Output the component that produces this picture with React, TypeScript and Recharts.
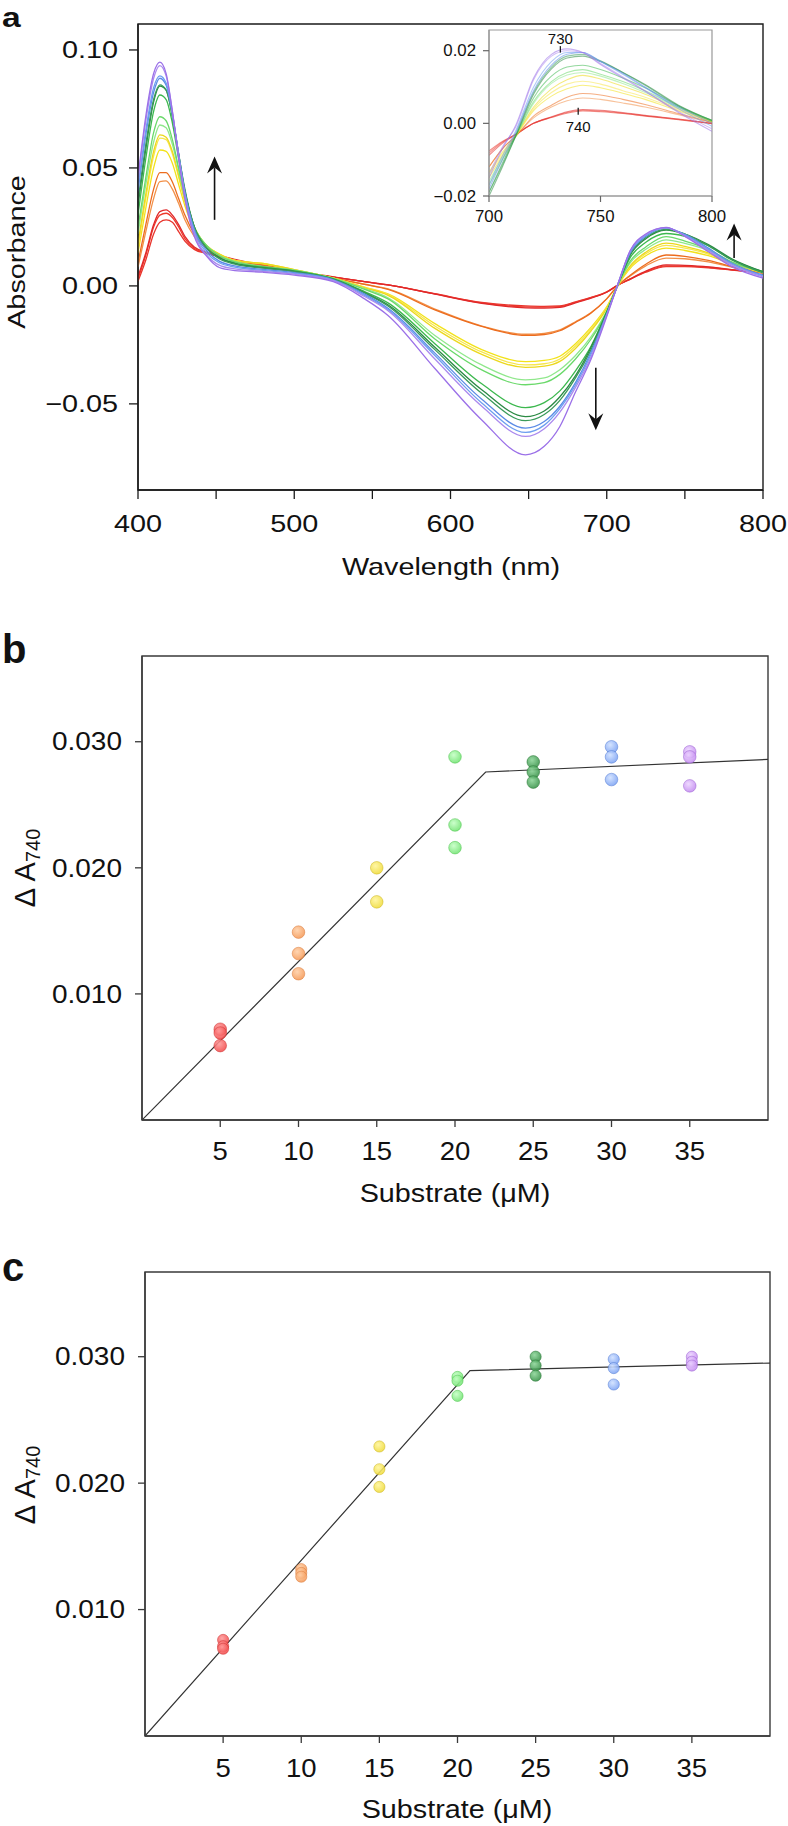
import React from 'react';
import {
  LineChart, Line, XAxis, YAxis, ReferenceArea, ReferenceLine, ReferenceDot,
  ComposedChart, Scatter,
} from 'recharts';

const FONT = '"Liberation Sans", Arial, Helvetica, sans-serif';

// ---------------- Panel a : spectra ----------------
const wavelengths = [400, 405, 410, 414, 418, 422, 426, 430, 436, 444, 452, 462, 480, 500, 525, 545, 560, 590, 620, 648, 660, 670, 680, 690, 700, 707, 715, 725, 738, 750, 765, 780, 800];

const red1 = [0.002, 0.011, 0.022, 0.027, 0.028, 0.027, 0.023, 0.019, 0.0155, 0.0137, 0.0124, 0.0108, 0.0085, 0.0061, 0.0037, 0.0018, 0.0004, -0.0033, -0.007, -0.0085, -0.0087, -0.0085, -0.0068, -0.0049, -0.0025, 0.0003, 0.0028, 0.0058, 0.0082, 0.0082, 0.0077, 0.0067, 0.0055];
const red2 = [0.003, 0.013, 0.025, 0.030, 0.0308, 0.029, 0.025, 0.020, 0.016, 0.014, 0.0126, 0.011, 0.0086, 0.0062, 0.0037, 0.0018, 0.0004, -0.0034, -0.0072, -0.0089, -0.009, -0.0088, -0.007, -0.005, -0.0026, 0.0003, 0.0029, 0.006, 0.0085, 0.0084, 0.0079, 0.0068, 0.0055];
const red3 = [0.004, 0.014, 0.026, 0.0315, 0.0322, 0.030, 0.026, 0.021, 0.0165, 0.0143, 0.0128, 0.0112, 0.0087, 0.0063, 0.0038, 0.0018, 0.0004, -0.0035, -0.0074, -0.0093, -0.0094, -0.0091, -0.0072, -0.0052, -0.0027, 0.0003, 0.003, 0.0063, 0.0089, 0.0087, 0.0081, 0.0069, 0.0056];
const orange1 = [0.008, 0.023, 0.037, 0.0442, 0.0445, 0.041, 0.035, 0.028, 0.021, 0.016, 0.013, 0.0106, 0.009, 0.0066, 0.0033, 0.0007, -0.0013, -0.0098, -0.017, -0.0205, -0.0201, -0.0186, -0.0152, -0.0113, -0.0054, 0.0, 0.0042, 0.0085, 0.0118, 0.0115, 0.0102, 0.008, 0.0055];
const orange2 = [0.010, 0.026, 0.041, 0.048, 0.048, 0.044, 0.037, 0.030, 0.022, 0.016, 0.013, 0.0106, 0.009, 0.0066, 0.0033, 0.0006, -0.0015, -0.0102, -0.0172, -0.021, -0.0206, -0.019, -0.0155, -0.0115, -0.0055, 0.0, 0.0045, 0.0092, 0.0131, 0.0125, 0.0108, 0.0082, 0.0055];
const yellow1 = [0.014, 0.033, 0.050, 0.0576, 0.057, 0.052, 0.043, 0.034, 0.024, 0.017, 0.0135, 0.0108, 0.0094, 0.0068, 0.0033, -0.0005, -0.0034, -0.016, -0.027, -0.0321, -0.0316, -0.0298, -0.0245, -0.0175, -0.0088, 0.0, 0.0075, 0.0128, 0.016, 0.015, 0.0128, 0.0093, 0.0055];
const yellow2 = [0.016, 0.037, 0.055, 0.0626, 0.062, 0.056, 0.046, 0.036, 0.025, 0.017, 0.0135, 0.0108, 0.0095, 0.0069, 0.0033, -0.0006, -0.0037, -0.017, -0.028, -0.0335, -0.033, -0.031, -0.0255, -0.0182, -0.0092, 0.0, 0.008, 0.0136, 0.0172, 0.016, 0.0135, 0.0095, 0.0056];
const yellow3 = [0.018, 0.039, 0.057, 0.064, 0.063, 0.057, 0.047, 0.036, 0.025, 0.017, 0.0135, 0.0108, 0.0095, 0.0069, 0.0033, -0.0008, -0.004, -0.018, -0.029, -0.0345, -0.034, -0.032, -0.0265, -0.019, -0.0095, 0.0, 0.0085, 0.0143, 0.0181, 0.0168, 0.014, 0.0097, 0.0057];
const lgreen1 = [0.022, 0.043, 0.061, 0.0682, 0.067, 0.060, 0.049, 0.037, 0.025, 0.017, 0.013, 0.0104, 0.0083, 0.0067, 0.0032, -0.0012, -0.005, -0.021, -0.0335, -0.0398, -0.039, -0.0355, -0.0295, -0.0215, -0.0105, 0.0002, 0.0098, 0.0155, 0.0195, 0.018, 0.015, 0.010, 0.006];
const lgreen2 = [0.025, 0.046, 0.065, 0.0717, 0.070, 0.062, 0.050, 0.038, 0.025, 0.017, 0.0128, 0.0102, 0.0082, 0.0066, 0.0032, -0.0015, -0.0055, -0.0225, -0.0356, -0.0419, -0.041, -0.0375, -0.031, -0.0225, -0.011, 0.0002, 0.0105, 0.0165, 0.0209, 0.019, 0.0155, 0.0102, 0.006];
const green1 = [0.030, 0.054, 0.074, 0.0809, 0.079, 0.069, 0.054, 0.040, 0.025, 0.016, 0.012, 0.0097, 0.0079, 0.0064, 0.003, -0.0024, -0.0072, -0.0245, -0.0415, -0.0516, -0.0495, -0.0445, -0.036, -0.0255, -0.011, 0.0003, 0.012, 0.0185, 0.0222, 0.021, 0.017, 0.0112, 0.006];
const dgreen1 = [0.034, 0.058, 0.078, 0.0847, 0.083, 0.072, 0.056, 0.041, 0.025, 0.016, 0.012, 0.0095, 0.0077, 0.0062, 0.0029, -0.0028, -0.008, -0.026, -0.044, -0.0554, -0.053, -0.047, -0.038, -0.026, -0.0112, 0.0004, 0.013, 0.020, 0.0237, 0.022, 0.0175, 0.0115, 0.006];
const dgreen2 = [0.036, 0.060, 0.079, 0.0852, 0.083, 0.072, 0.056, 0.040, 0.025, 0.016, 0.0115, 0.0092, 0.0075, 0.006, 0.0028, -0.003, -0.0085, -0.027, -0.0455, -0.0571, -0.0545, -0.0485, -0.039, -0.027, -0.0115, 0.0004, 0.0135, 0.0205, 0.024, 0.022, 0.017, 0.011, 0.0055];
const blue1 = [0.040, 0.064, 0.082, 0.088, 0.085, 0.073, 0.056, 0.040, 0.024, 0.015, 0.0105, 0.0085, 0.007, 0.0056, 0.0026, -0.0035, -0.0095, -0.0285, -0.048, -0.0603, -0.0575, -0.051, -0.041, -0.028, -0.012, 0.0004, 0.014, 0.021, 0.0245, 0.0218, 0.016, 0.0097, 0.0045];
const blue2 = [0.042, 0.066, 0.084, 0.089, 0.086, 0.073, 0.055, 0.039, 0.023, 0.014, 0.0098, 0.008, 0.0066, 0.0053, 0.0024, -0.004, -0.010, -0.0295, -0.0496, -0.0621, -0.059, -0.052, -0.042, -0.029, -0.012, 0.0005, 0.0145, 0.0215, 0.0246, 0.0215, 0.0155, 0.0092, 0.0042];
const purple1 = [0.045, 0.070, 0.088, 0.0934, 0.089, 0.074, 0.055, 0.038, 0.022, 0.013, 0.0088, 0.0072, 0.0062, 0.005, 0.0022, -0.0045, -0.0105, -0.031, -0.051, -0.0638, -0.0605, -0.0535, -0.043, -0.030, -0.0125, 0.0005, 0.0148, 0.0218, 0.0247, 0.0212, 0.015, 0.0088, 0.0038];
const purple2 = [0.046, 0.072, 0.090, 0.0948, 0.090, 0.074, 0.054, 0.037, 0.021, 0.0125, 0.0078, 0.0065, 0.0058, 0.0046, 0.0018, -0.0055, -0.0125, -0.035, -0.0568, -0.0716, -0.068, -0.0596, -0.045, -0.031, -0.013, 0.0005, 0.015, 0.022, 0.0248, 0.021, 0.0145, 0.0082, 0.0033];

// inset (700-800 nm)
const insetWavelengths = [700, 706, 712, 720, 728, 735, 742, 750, 760, 770, 785, 800];
const insRed1 = [-0.0076, -0.005, -0.003, 0.0, 0.0016, 0.0028, 0.0034, 0.0032, 0.0027, 0.002, 0.001, -0.0001];
const insRed2 = [-0.0082, -0.0052, -0.003, 0.0, 0.0017, 0.003, 0.0036, 0.0034, 0.0028, 0.0021, 0.0011, 0.0];
const insRed3 = [-0.0088, -0.0055, -0.0031, 0.0, 0.0018, 0.0032, 0.0038, 0.0036, 0.003, 0.0022, 0.0012, 0.0];
const insOrange1 = [-0.012, -0.007, -0.0035, 0.0015, 0.0045, 0.0062, 0.007, 0.0066, 0.0056, 0.0045, 0.0024, 0.0002];
const insOrange2 = [-0.012, -0.007, -0.0035, 0.002, 0.005, 0.0072, 0.0082, 0.0078, 0.0066, 0.0052, 0.0027, 0.0003];
const insYellow1 = [-0.0135, -0.008, -0.0035, 0.0035, 0.0075, 0.0095, 0.0105, 0.0098, 0.0083, 0.0066, 0.0034, 0.0004];
const insYellow2 = [-0.014, -0.0085, -0.0035, 0.004, 0.0085, 0.0108, 0.0116, 0.0108, 0.009, 0.0072, 0.0037, 0.0005];
const insYellow3 = [-0.015, -0.009, -0.0035, 0.0045, 0.0095, 0.012, 0.0132, 0.0122, 0.0102, 0.008, 0.004, 0.0006];
const insLgreen1 = [-0.016, -0.0095, -0.0035, 0.0055, 0.011, 0.0133, 0.014, 0.013, 0.011, 0.0085, 0.0043, 0.0007];
const insLgreen2 = [-0.017, -0.010, -0.0035, 0.006, 0.0115, 0.014, 0.0148, 0.0135, 0.0115, 0.009, 0.0045, 0.0008];
const insGreen1 = [-0.019, -0.0115, -0.0035, 0.007, 0.013, 0.0155, 0.016, 0.0148, 0.0125, 0.0098, 0.0048, 0.0008];
const insDgreen1 = [-0.020, -0.012, -0.0035, 0.008, 0.015, 0.018, 0.0185, 0.017, 0.014, 0.0107, 0.005, 0.0008];
const insDgreen2 = [-0.019, -0.011, -0.003, 0.0085, 0.0155, 0.0185, 0.019, 0.0172, 0.014, 0.0105, 0.0048, 0.0005];
const insBlue1 = [-0.018, -0.010, -0.0025, 0.009, 0.016, 0.019, 0.0195, 0.017, 0.0138, 0.010, 0.0045, 0.0];
const insBlue2 = [-0.017, -0.009, -0.002, 0.010, 0.017, 0.0195, 0.0195, 0.017, 0.0135, 0.0098, 0.004, -0.0008];
const insPurple1 = [-0.014, -0.0065, -0.001, 0.012, 0.0185, 0.020, 0.0195, 0.0165, 0.0128, 0.009, 0.0033, -0.0015];
const insPurple2 = [-0.015, -0.007, -0.0005, 0.0125, 0.019, 0.0205, 0.0195, 0.0162, 0.0125, 0.0088, 0.003, -0.0022];

const curveNames = ['red1', 'red2', 'red3', 'orange1', 'orange2', 'yellow1', 'yellow2', 'yellow3', 'lgreen1', 'lgreen2', 'green1', 'dgreen1', 'dgreen2', 'blue1', 'blue2', 'purple1', 'purple2'];
const curveColors = ['#e8342c', '#ee3b2e', '#e0282a', '#f29048', '#ec6c1e', '#f2e21a', '#f7e64e', '#ecd81c', '#90e88c', '#6ad96a', '#3cb84e', '#2b8a44', '#3a9a5a', '#5b8be6', '#6d9ef0', '#ab8aee', '#9b70e8'];
const mainValues = [red1, red2, red3, orange1, orange2, yellow1, yellow2, yellow3, lgreen1, lgreen2, green1, dgreen1, dgreen2, blue1, blue2, purple1, purple2];
const insetValues = [insRed1, insRed2, insRed3, insOrange1, insOrange2, insYellow1, insYellow2, insYellow3, insLgreen1, insLgreen2, insGreen1, insDgreen1, insDgreen2, insBlue1, insBlue2, insPurple1, insPurple2];

const aXTicks = [400, 450, 500, 550, 600, 650, 700, 750, 800];
const aYTicks = [-0.05, 0, 0.05, 0.1];
const insetXTicks = [700, 750, 800];
const insetYTicks = [-0.02, 0, 0.02];

// arrows (wavelength, from absorbance, to absorbance)
const arrows = [
  { w: 449, from: 0.028, to: 0.0548 },
  { w: 693, from: -0.0347, to: -0.0612 },
  { w: 781.5, from: 0.0118, to: 0.0264 },
];

// ---------------- Panels b, c : titrations ----------------
const substrate = [5, 10, 15, 20, 25, 30, 35];
const groupKeys = ['red', 'orange', 'yellow', 'lgreen', 'dgreen', 'blue', 'purple'];
const groupColors: Record<string, string> = { red: '#f24c4c', orange: '#f59a58', yellow: '#f0dc3c', lgreen: '#74e474', dgreen: '#3a944a', blue: '#7ea4f4', purple: '#c48cf0' };
const groupLight: Record<string, string> = { red: '#ff9a9a', orange: '#ffcfa6', yellow: '#fff59a', lgreen: '#c4ffc4', dgreen: '#8ad496', blue: '#cfe0ff', purple: '#ecd4ff' };
const groupDark: Record<string, string> = { red: '#c92a2a', orange: '#d8783a', yellow: '#c8b21e', lgreen: '#46c046', dgreen: '#23702f', blue: '#4f78d0', purple: '#9a5fd0' };

const bRed = [0.0072, 0.0069, 0.0059];
const bOrange = [0.0149, 0.0132, 0.0116];
const bYellow = [0.0200, 0.0173];
const bLgreen = [0.0288, 0.0234, 0.0216];
const bDgreen = [0.0284, 0.0276, 0.0268];
const bBlue = [0.0296, 0.0288, 0.0270];
const bPurple = [0.0292, 0.0288, 0.0265];
const bFitX = [0, 21.96, 40];
const bFitY = [0, 0.0276, 0.0286];

const cRed = [0.0076, 0.0071, 0.0069];
const cOrange = [0.0132, 0.0129, 0.0126];
const cYellow = [0.0229, 0.0211, 0.0197];
const cLgreen = [0.0284, 0.0281, 0.0269];
const cDgreen = [0.0300, 0.0293, 0.0285];
const cBlue = [0.0298, 0.0291, 0.0278];
const cPurple = [0.0300, 0.0296, 0.0293];
const cFitX = [0, 20.8, 40];
const cFitY = [0, 0.0289, 0.0295];

const bcXTicks = [5, 10, 15, 20, 25, 30, 35];
const bcYTicks = [0.01, 0.02, 0.03];

// ---------------- build tables ----------------
const mainData = wavelengths.map((w, i) => {
  const row: any = { w };
  curveNames.forEach((n, j) => { row[n] = mainValues[j][i]; });
  return row;
});
const insetData = insetWavelengths.map((w, i) => {
  const row: any = { w };
  curveNames.forEach((n, j) => { row[n] = insetValues[j][i]; });
  return row;
});
const toGroups = (vals: number[][]) => groupKeys.map((k, gi) => ({
  key: k,
  points: vals[gi].map((y) => ({ x: substrate[gi], y })),
}));
const bGroups = toGroups([bRed, bOrange, bYellow, bLgreen, bDgreen, bBlue, bPurple]);
const cGroups = toGroups([cRed, cOrange, cYellow, cLgreen, cDgreen, cBlue, cPurple]);
const bFit = bFitX.map((x, i) => ({ x, y: bFitY[i] }));
const cFit = cFitX.map((x, i) => ({ x, y: cFitY[i] }));

// ---------------- helpers ----------------
const fmtSigned2 = (v: number) => (v < 0 ? '\u2212' : '') + Math.abs(v).toFixed(2);

function makeTick(fontSize: number, sx: number, fmt: (v: number) => string, axis: 'x' | 'y') {
  return (props: any) => {
    const { x, y, payload } = props;
    const s = fmt(payload.value);
    if (!s) return <g />;
    return (
      <text
        transform={`translate(${x},${y}) scale(${sx},1)`}
        textAnchor={axis === 'x' ? 'middle' : 'end'}
        dy={axis === 'x' ? '0.71em' : '0.35em'}
        fontSize={fontSize}
        fontFamily={FONT}
        fill="#111"
      >
        {s}
      </text>
    );
  };
}

const ArrowShape = (p: any) => {
  const { x1, y1, x2, y2 } = p;
  const dir = y2 < y1 ? -1 : 1;
  const hw = 7.5;
  const hl = 17;
  const notch = 6;
  const base = y2 - dir * hl;
  const notchY = base + dir * notch;
  return (
    <g>
      <line x1={x1} y1={y1} x2={x2} y2={notchY} stroke="#111" strokeWidth={1.6} />
      <path d={`M${x2},${y2} L${x2 - hw},${base} L${x2},${notchY} L${x2 + hw},${base} Z`} fill="#111" />
    </g>
  );
};

const makeMarker = (key: string, r: number) => (p: any) => (
  <circle
    cx={p.cx}
    cy={p.cy}
    r={r}
    fill={`url(#grad-${key})`}
    fillOpacity={0.88}
    stroke={groupDark[key]}
    strokeOpacity={0.55}
    strokeWidth={0.9}
  />
);

const aYDomain: [number, number] = [-0.0865, 0.111];
const insetYDomain: [number, number] = [-0.02, 0.0257];
const bYDomain: [number, number] = [0, 0.0368];
const cYDomain: [number, number] = [0, 0.0367];

function Titration({ groups, fit, yDomain, width, height, margin, yAxisWidth, xAxisHeight, xTickMargin, r }: any) {
  return (
    <ComposedChart width={width} height={height} margin={margin}>
      <XAxis
        dataKey="x" type="number" domain={[0, 40]} ticks={bcXTicks} allowDataOverflow
        height={xAxisHeight} tickSize={7} tickMargin={xTickMargin}
        axisLine={{ stroke: '#3a3a3a', strokeWidth: 1.4 }} tickLine={{ stroke: '#3a3a3a', strokeWidth: 1.3 }}
        tick={makeTick(25, 1.1, (v) => String(v), 'x')}
      />
      <YAxis
        dataKey="y" type="number" domain={yDomain} ticks={bcYTicks} allowDataOverflow
        width={yAxisWidth} tickSize={7} tickMargin={13}
        axisLine={{ stroke: '#3a3a3a', strokeWidth: 1.4 }} tickLine={{ stroke: '#3a3a3a', strokeWidth: 1.3 }}
        tick={makeTick(25, 1.12, (v) => v.toFixed(3), 'y')}
      />
      <ReferenceArea x1={0} x2={40} y1={yDomain[0]} y2={yDomain[1]} fill="none" stroke="#3a3a3a" strokeWidth={1.4} />
      <Line data={fit} dataKey="y" type="linear" stroke="#333" strokeWidth={1.2} dot={false} isAnimationActive={false} />
      {groups.map((g: any) => (
        <Scatter key={g.key} data={g.points} dataKey="y" shape={makeMarker(g.key, r)} isAnimationActive={false} />
      ))}
    </ComposedChart>
  );
}

export default function App() {
  return (
    <div style={{ position: 'absolute', left: 0, top: 0, width: 788, height: 1826, background: '#fff', overflow: 'hidden', fontFamily: FONT }}>
      <svg width={0} height={0} style={{ position: 'absolute' }}>
        <defs>
          {groupKeys.map((k) => (
            <radialGradient key={k} id={`grad-${k}`} cx="40%" cy="35%" r="65%">
              <stop offset="0%" stopColor={groupLight[k]} />
              <stop offset="100%" stopColor={groupColors[k]} />
            </radialGradient>
          ))}
        </defs>
      </svg>

      {/* Panel a main */}
      <div style={{ position: 'absolute', left: 0, top: 0 }}>
        <LineChart width={788} height={600} data={mainData} margin={{ top: 24, right: 25, bottom: 0, left: 0 }}>
          <XAxis
            dataKey="w" type="number" domain={[400, 800]} ticks={aXTicks} allowDataOverflow
            height={110} tickSize={9} tickMargin={16}
            axisLine={{ stroke: '#1a1a1a', strokeWidth: 1.4 }} tickLine={{ stroke: '#1a1a1a', strokeWidth: 1.3 }}
            tick={makeTick(24, 1.2, (v) => (v % 100 === 0 ? String(v) : ''), 'x')}
          />
          <YAxis
            type="number" domain={aYDomain} ticks={aYTicks} allowDataOverflow
            width={138} tickSize={9} tickMargin={11}
            axisLine={{ stroke: '#1a1a1a', strokeWidth: 1.4 }} tickLine={{ stroke: '#1a1a1a', strokeWidth: 1.3 }}
            tick={makeTick(24, 1.2, fmtSigned2, 'y')}
          />
          <ReferenceArea x1={400} x2={800} y1={aYDomain[0]} y2={aYDomain[1]} fill="none" stroke="#1a1a1a" strokeWidth={1.4} />
          {curveNames.map((n, j) => (
            <Line key={n} dataKey={n} type="monotone" stroke={curveColors[j]} strokeWidth={1.3} dot={false} isAnimationActive={false} />
          ))}
          {arrows.map((a, i) => (
            <ReferenceLine key={i} segment={[{ x: a.w, y: a.from }, { x: a.w, y: a.to }]} shape={ArrowShape} />
          ))}
        </LineChart>
      </div>

      {/* Panel a inset */}
      <div style={{ position: 'absolute', left: 400, top: 0 }}>
        <LineChart width={340} height={240} data={insetData} margin={{ top: 30, right: 28, bottom: 0, left: 0 }}>
          <XAxis
            dataKey="w" type="number" domain={[700, 800]} ticks={insetXTicks} allowDataOverflow
            height={44} tickSize={6} tickMargin={9}
            axisLine={{ stroke: '#999', strokeWidth: 1.2 }} tickLine={{ stroke: '#666', strokeWidth: 1.2 }}
            tick={makeTick(16, 1.05, (v) => String(v), 'x')}
          />
          <YAxis
            type="number" domain={insetYDomain} ticks={insetYTicks} allowDataOverflow
            width={89} tickSize={6} tickMargin={7}
            axisLine={{ stroke: '#999', strokeWidth: 1.2 }} tickLine={{ stroke: '#666', strokeWidth: 1.2 }}
            tick={makeTick(16, 1.05, fmtSigned2, 'y')}
          />
          <ReferenceArea x1={700} x2={800} y1={insetYDomain[0]} y2={insetYDomain[1]} fill="none" stroke="#999" strokeWidth={1.2} />
          {curveNames.map((n, j) => (
            <Line key={n} dataKey={n} type="monotone" stroke={curveColors[j]} strokeOpacity={0.55} strokeWidth={1.1} dot={false} isAnimationActive={false} />
          ))}
          <ReferenceDot
            x={732} y={0.0203} r={0}
            shape={(p: any) => (
              <g>
                <line x1={p.cx} y1={p.cy - 3.5} x2={p.cx} y2={p.cy + 3} stroke="#222" strokeWidth={1.3} />
                <text x={p.cx} y={p.cy - 6} textAnchor="middle" fontSize={15} fontFamily={FONT} fill="#111">730</text>
              </g>
            )}
          />
          <ReferenceDot
            x={740} y={0.0032} r={0}
            shape={(p: any) => (
              <g>
                <line x1={p.cx} y1={p.cy - 4} x2={p.cx} y2={p.cy + 3} stroke="#222" strokeWidth={1.3} />
                <text x={p.cx} y={p.cy + 20} textAnchor="middle" fontSize={15} fontFamily={FONT} fill="#111">740</text>
              </g>
            )}
          />
        </LineChart>
      </div>

      {/* Panel b */}
      <div style={{ position: 'absolute', left: 0, top: 620 }}>
        <Titration
          groups={bGroups} fit={bFit} yDomain={bYDomain}
          width={788} height={580} margin={{ top: 36, right: 20, bottom: 0, left: 0 }}
          yAxisWidth={142} xAxisHeight={80} xTickMargin={15} r={6.3}
        />
      </div>

      {/* Panel c */}
      <div style={{ position: 'absolute', left: 0, top: 1220 }}>
        <Titration
          groups={cGroups} fit={cFit} yDomain={cYDomain}
          width={788} height={606} margin={{ top: 52, right: 18, bottom: 0, left: 0 }}
          yAxisWidth={145} xAxisHeight={90} xTickMargin={16} r={5.6}
        />
      </div>

      {/* titles and panel letters */}
      <svg width={788} height={1826} style={{ position: 'absolute', left: 0, top: 0, pointerEvents: 'none' }}>
        <text transform="translate(2,27) scale(1.2,1)" fontSize={28} fontWeight="bold" fontFamily={FONT} fill="#111">a</text>
        <text transform="translate(25,252) rotate(-90) scale(1.2,1)" textAnchor="middle" fontSize={24} fontFamily={FONT} fill="#111">Absorbance</text>
        <text transform="translate(451,575) scale(1.2,1)" textAnchor="middle" fontSize={24} fontFamily={FONT} fill="#111">Wavelength (nm)</text>

        <text transform="translate(2,663)" fontSize={40} fontWeight="bold" fontFamily={FONT} fill="#111">b</text>
        <text transform="translate(35,868) rotate(-90)" textAnchor="middle" fontSize={29} fontFamily={FONT} fill="#111">
          {'\u0394 A'}<tspan fontSize={20} dy={5}>740</tspan>
        </text>
        <text transform="translate(455,1202) scale(1.15,1)" textAnchor="middle" fontSize={25} fontFamily={FONT} fill="#111">Substrate (μM)</text>

        <text transform="translate(2,1281)" fontSize={40} fontWeight="bold" fontFamily={FONT} fill="#111">c</text>
        <text transform="translate(35,1485) rotate(-90)" textAnchor="middle" fontSize={29} fontFamily={FONT} fill="#111">
          {'\u0394 A'}<tspan fontSize={20} dy={5}>740</tspan>
        </text>
        <text transform="translate(457,1818) scale(1.15,1)" textAnchor="middle" fontSize={25} fontFamily={FONT} fill="#111">Substrate (μM)</text>
      </svg>
    </div>
  );
}
